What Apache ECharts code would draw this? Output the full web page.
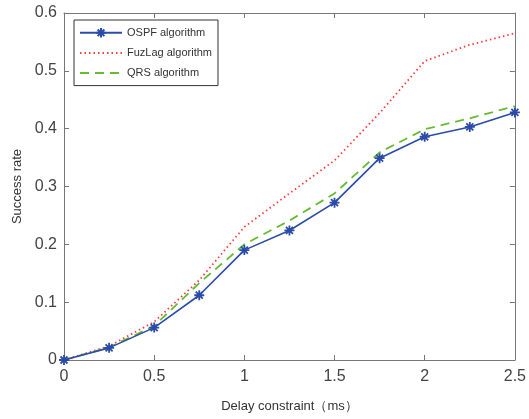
<!DOCTYPE html>
<html>
<head>
<meta charset="utf-8">
<script src="https://cdn.jsdelivr.net/npm/echarts@6/dist/echarts.min.js"></script>
<style>html,body{margin:0;padding:0;background:#fff;}#c{width:529px;height:419px;}</style>
</head>
<body>
<div id="c"></div>
<script>
const xValues = [0, 0.25, 0.5, 0.75, 1.0, 1.25, 1.5, 1.75, 2.0, 2.25, 2.5];
const ospf   = [0, 0.021, 0.056, 0.112, 0.190, 0.224, 0.272, 0.349, 0.386, 0.403, 0.428];
const fuzlag = [0, 0.024, 0.066, 0.138, 0.230, 0.288, 0.345, 0.427, 0.517, 0.545, 0.565];
const qrs    = [0, 0.022, 0.059, 0.133, 0.200, 0.241, 0.288, 0.359, 0.399, 0.418, 0.439];
const seriesNames = ['OSPF algorithm', 'FuzLag algorithm', 'QRS algorithm'];
const xTicks = [0, 0.5, 1, 1.5, 2, 2.5];
const yTicks = [0, 0.1, 0.2, 0.3, 0.4, 0.5, 0.6];

const pair = arr => xValues.map((x, i) => [x, arr[i]]);
const FONT = '"Liberation Sans", Arial, sans-serif';
const axisCol = '#777';
const star = 'path://M5 0 L5 10 M0 5 L10 5 M1.5 1.5 L8.5 8.5 M8.5 1.5 L1.5 8.5';

const chart = echarts.init(document.getElementById('c'), null, {renderer: 'canvas'});
const baseX = {
  type: 'value', min: 0, max: 2.5, interval: 0.5,
  axisLine: {show: true, onZero: false, lineStyle: {color: axisCol, width: 1}},
  axisTick: {show: true, inside: true, length: 5, lineStyle: {color: axisCol}},
  splitLine: {show: false}
};
const baseY = {
  type: 'value', min: 0, max: 0.6, interval: 0.1,
  axisLine: {show: true, onZero: false, lineStyle: {color: axisCol, width: 1}},
  axisTick: {show: true, inside: true, length: 5, lineStyle: {color: axisCol}},
  splitLine: {show: false}
};
chart.setOption({
  animation: false,
  backgroundColor: '#fff',
  grid: {left: 64, right: 12, top: 13, bottom: 59, containLabel: false},
  legend: {
    orient: 'vertical', left: 74, top: 20,
    data: [
      {name: seriesNames[0]},
      {name: seriesNames[1], itemStyle: {opacity: 0}},
      {name: seriesNames[2], itemStyle: {opacity: 0}}
    ],
    itemWidth: 42, itemHeight: 12, itemGap: 9,
    padding: [7, 6, 7, 5],
    borderColor: '#333', borderWidth: 1, backgroundColor: '#fff',
    textStyle: {fontFamily: FONT, fontSize: 11, color: '#333'}
  },
  xAxis: [
    Object.assign({}, baseX, {
      position: 'bottom',
      name: 'Delay constraint（ms）', nameLocation: 'middle', nameGap: 40,
      nameTextStyle: {fontFamily: FONT, fontSize: 13, color: '#333'},
      axisLabel: {fontFamily: FONT, fontSize: 16, color: '#444', margin: 9,
        formatter: v => xTicks.includes(+v.toFixed(2)) ? String(+v.toFixed(2)) : ''}
    }),
    Object.assign({}, baseX, {position: 'top', axisLabel: {show: false}})
  ],
  yAxis: [
    Object.assign({}, baseY, {
      position: 'left',
      name: 'Success rate', nameLocation: 'middle', nameGap: 39,
      nameTextStyle: {fontFamily: FONT, fontSize: 13, color: '#333'},
      axisLabel: {fontFamily: FONT, fontSize: 16, color: '#444', margin: 7,
        formatter: v => yTicks.includes(+v.toFixed(2)) ? String(+v.toFixed(2)) : ''}
    }),
    Object.assign({}, baseY, {position: 'right', axisLabel: {show: false}})
  ],
  series: [
    {
      name: seriesNames[1], type: 'line', data: pair(fuzlag), z: 3,
      showSymbol: false, symbol: 'none',
      lineStyle: {color: '#ff3b3b', width: 1.8, type: [1.5, 3]},
      itemStyle: {color: '#ff3b3b'}
    },
    {
      name: seriesNames[2], type: 'line', data: pair(qrs), z: 4,
      showSymbol: false, symbol: 'none',
      lineStyle: {color: '#66bb33', width: 1.8, type: [9, 6]},
      itemStyle: {color: '#66bb33'}
    },
    {
      name: seriesNames[0], type: 'line', data: pair(ospf), z: 5,
      symbol: star, symbolSize: 10, showAllSymbol: true,
      lineStyle: {color: '#2a4ca8', width: 1.6},
      itemStyle: {color: '#2a4ca8', borderColor: '#2a4ca8', borderWidth: 1.8}
    }
  ]
});
</script>
</body>
</html>
